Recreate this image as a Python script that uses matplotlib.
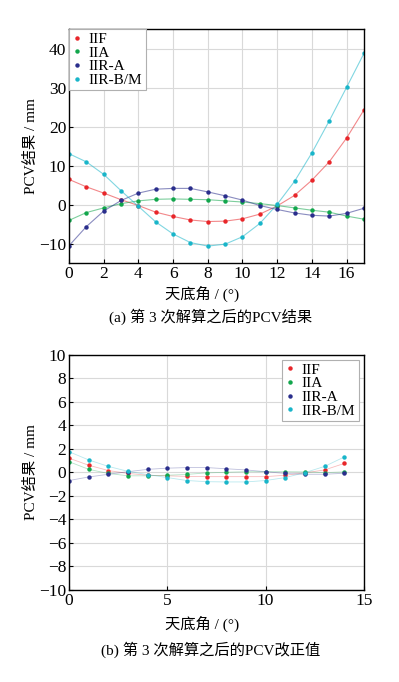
import matplotlib
matplotlib.use("Agg")
import matplotlib.pyplot as plt
import numpy as np

plt.rcParams['font.family'] = ['Liberation Serif', 'Noto Sans CJK SC']
plt.rcParams['axes.unicode_minus'] = True

series_names = ["IIF", "IIA", "IIR-A", "IIR-B/M"]
colors = ["#e8262a", "#12a64c", "#2a2e8c", "#19b5c9"]

# (a) PCV results
x_a = list(range(0, 18))
iif_a = [6.5, 4.6, 3.0, 1.3, -0.2, -1.9, -3.0, -3.9, -4.3, -4.2, -3.6, -2.4, -0.3, 2.4, 6.3, 11.0, 17.1, 24.3]
iia_a = [-4.0, -2.0, -0.8, 0.3, 1.0, 1.4, 1.5, 1.4, 1.3, 1.0, 0.7, 0.3, -0.2, -0.8, -1.4, -1.9, -2.9, -3.7]
iira_a = [-10.5, -5.6, -1.6, 1.1, 3.0, 4.0, 4.2, 4.2, 3.3, 2.3, 1.2, -0.2, -1.2, -2.1, -2.7, -2.9, -2.2, -0.9]
iirb_a = [13.1, 11.0, 7.8, 3.6, -0.4, -4.4, -7.5, -9.7, -10.6, -10.1, -8.2, -4.8, 0.1, 6.0, 13.3, 21.5, 30.1, 38.8]

# (b) PCV corrections
x_b = list(range(0, 15))
iif_b = [1.2, 0.6, 0.15, -0.1, -0.25, -0.3, -0.35, -0.37, -0.37, -0.37, -0.37, -0.25, -0.05, 0.2, 0.75]
iia_b = [0.9, 0.25, -0.1, -0.3, -0.3, -0.25, -0.18, -0.05, 0.0, 0.05, 0.05, 0.05, 0.03, -0.03, 0.03]
iira_b = [-0.7, -0.4, -0.17, 0.05, 0.25, 0.35, 0.4, 0.4, 0.3, 0.2, 0.05, -0.1, -0.17, -0.17, -0.08]
iirb_b = [1.75, 1.05, 0.5, 0.08, -0.2, -0.45, -0.7, -0.8, -0.82, -0.82, -0.7, -0.45, -0.03, 0.5, 1.3]

xticks_a = [0, 2, 4, 6, 8, 10, 12, 14, 16]
yticks_a = [-10, 0, 10, 20, 30, 40]
xticks_b = [0, 5, 10, 15]
yticks_b = [-10, -8, -6, -4, -2, 0, 2, 4, 6, 8, 10]

xlabel = "天底角 / (°)"
ylabel = "PCV结果 / mm"
cap_a = "(a) 第 3 次解算之后的PCV结果"
cap_b = "(b) 第 3 次解算之后的PCV改正值"

fig = plt.figure(figsize=(3.99, 6.82), dpi=100)
ax1 = fig.add_axes([0.173, 0.614, 0.739, 0.343])
ax2 = fig.add_axes([0.173, 0.135, 0.739, 0.345])

def style(ax, xlim, ylim, xt, yt, xlab_y):
    ax.set_xlim(*xlim)
    ax.set_ylim(*ylim)
    ax.set_xticks(xt)
    ax.set_yticks(yt)
    ax.grid(True, color="#d9d9d9", linewidth=0.8)
    ax.set_axisbelow(True)
    ax.tick_params(direction='in', labelsize=12.5, length=3, width=0.8,
                   top=False, right=False, pad=2)
    for s in ax.spines.values():
        s.set_linewidth(1.0)
        s.set_color("black")
    ax.set_ylabel(ylabel, fontsize=11)
    ax.yaxis.set_label_coords(-0.105, 0.5)
    ax.set_xlabel(xlabel, fontsize=11)
    ax.xaxis.set_label_coords(0.45, xlab_y)

data_a = [iif_a, iia_a, iira_a, iirb_a]
for name, c, ys in zip(series_names, colors, data_a):
    ax1.plot(x_a, ys, '-', color=c, lw=0.8, alpha=0.55)
    ax1.plot(x_a, ys, 'o', color=c, ms=3.2, mec='none', label=name)
style(ax1, (0, 17), (-15, 45), xticks_a, yticks_a, -0.095)
leg1 = ax1.legend(loc='upper left', fontsize=11, frameon=True, fancybox=False,
                  borderaxespad=0.0, handlelength=0.6, handletextpad=0.5,
                  labelspacing=0.0, borderpad=0.2, markerscale=1.0)
leg1.get_frame().set_edgecolor("#b0b0b0")
leg1.get_frame().set_linewidth(0.8)
leg1.get_frame().set_alpha(1.0)

data_b = [iif_b, iia_b, iira_b, iirb_b]
for name, c, ys in zip(series_names, colors, data_b):
    ax2.plot(x_b, ys, '-', color=c, lw=0.6, alpha=0.3)
    ax2.plot(x_b, ys, 'o', color=c, ms=3.2, mec='none', label=name)
style(ax2, (0, 15), (-10, 10), xticks_b, yticks_b, -0.11)
leg2 = ax2.legend(loc='upper right', fontsize=11, frameon=True, fancybox=False,
                  borderaxespad=0.35, handlelength=0.6, handletextpad=0.5,
                  labelspacing=0.0, borderpad=0.2)
leg2.get_frame().set_edgecolor("#b0b0b0")
leg2.get_frame().set_linewidth(0.8)
leg2.get_frame().set_alpha(1.0)

fig.text(0.527, 1 - 317 / 682, cap_a, ha='center', va='center', fontsize=11)
fig.text(0.527, 1 - 650 / 682, cap_b, ha='center', va='center', fontsize=11)

fig.savefig("out.png", dpi=100)
